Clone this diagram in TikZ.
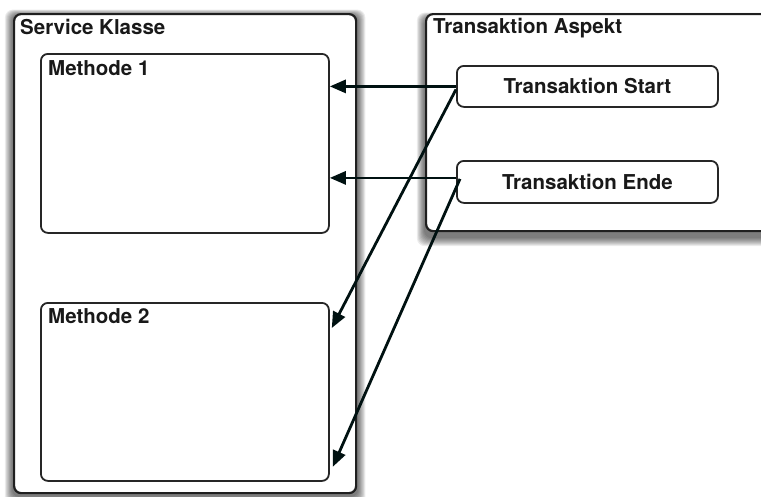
\documentclass[tikz,border=0pt]{standalone}
\usepackage{fontspec}
\setmainfont{TeX Gyre Heros}
\usetikzlibrary{arrows.meta,calc}

\tikzset{
  outerbox/.style={draw=black!88, line width=2.2pt, rounded corners=7pt, fill=white,
    anchor=north west, inner sep=0pt},
  innerbox/.style={draw=black!85, line width=1.8pt, rounded corners=7pt, fill=white,
    anchor=north west, inner sep=0pt},
  title/.style={anchor=base west, inner sep=0pt, font=\fontsize{20.5}{24}\selectfont\bfseries, text=black!90},
  actbox/.style={draw=black!85, line width=1.8pt, rounded corners=7pt, fill=white,
    anchor=north west, inner sep=0pt, font=\fontsize{20.5}{24}\selectfont\bfseries, text=black!90},
  arr/.style={line width=2.8pt, -{Triangle[length=16pt,width=13pt]},
    color=black!85!teal!90!black},
}

% soft shadow behind a box: #1 = node, #2 = extra vertical offset
\newcommand{\boxshadow}[2]{%
  \foreach \i in {1,...,9}{%
    \fill[black, opacity=0.075, rounded corners=8pt]
      ($(#1.north west)+(-\i*0.9,-\i*0.6+#2)$) rectangle
      ($(#1.south east)+(\i*0.9,\i*1.0+#2)$);
  }%
}

\begin{document}
\begin{tikzpicture}[x=1pt,y=-1pt]
  \useasboundingbox (0,0) rectangle (761,496);
  \clip (0,0) rectangle (761,496);
  \fill[white] (0,0) rectangle (761,496);

  % service class with its two methods
  \node[outerbox, draw=none, fill=none, minimum width=342pt, minimum height=479pt] (svcb) at (13,13) {};
  \boxshadow{svcb}{2}
  \node[outerbox, minimum width=342pt, minimum height=479pt] (svc) at (13,13) {};
  \node[title] (svct) at (20,34) {Service Klasse};

  \node[innerbox, minimum width=288pt, minimum height=179pt] (m1) at (40,53) {};
  \node[title] (m1t) at (48,75) {Methode 1};

  \node[innerbox, minimum width=288pt, minimum height=178pt] (m2) at (40,302) {};
  \node[title] (m2t) at (48,323) {Methode 2};

  % transaction aspect
  \node[outerbox, draw=none, fill=none, minimum width=345pt, minimum height=217pt] (aspb) at (425,13) {};
  \boxshadow{aspb}{5}
  \node[outerbox, minimum width=345pt, minimum height=217pt] (asp) at (425,13) {};
  \node[title] (aspt) at (433,33) {Transaktion Aspekt};

  \node[actbox, minimum width=261pt, minimum height=41pt] (start) at (456,65) {Transaktion Start};
  \node[actbox, minimum width=261pt, minimum height=42pt] (ende) at (456,160) {Transaktion Ende};

  % connector end points on the aspect side
  \coordinate (s1) at (start.west);
  \coordinate (s2) at ([yshift=-3pt]start.west);
  \coordinate (e1) at ([yshift=4pt]ende.west);
  \coordinate (e2) at ([xshift=4pt,yshift=3pt]ende.west);

  % advice calls into the methods
  \draw[arr] (s1) -- (m1.east |- s1);
  \draw[arr] (e1) -- (m1.east |- e1);
  \draw[arr] (s2) -- ([xshift=2pt,yshift=-26pt]m2.north east);
  \draw[arr] (e2) -- ([xshift=3pt,yshift=15pt]m2.south east);
\end{tikzpicture}
\end{document}
